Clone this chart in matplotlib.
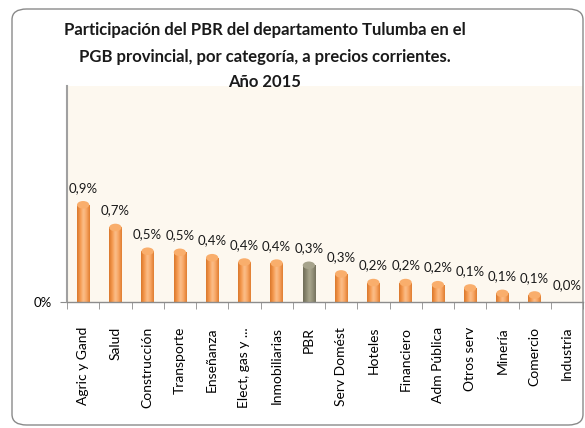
import matplotlib
matplotlib.use("Agg")
import matplotlib.pyplot as plt
import numpy as np
from matplotlib.patches import FancyBboxPatch, Ellipse
from matplotlib.colors import LinearSegmentedColormap
from matplotlib.ticker import FixedLocator

plt.rcParams['font.family'] = ['Lato', 'DejaVu Sans']

categories = ["Agric y Gand", "Salud", "Construcción", "Transporte", "Enseñanza",
              "Elect, gas y ...", "Inmobiliarias", "PBR", "Serv Domést", "Hoteles",
              "Financiero", "Adm Pública", "Otros serv", "Minería", "Comercio", "Industria"]
values = [0.90, 0.69, 0.47, 0.46, 0.41, 0.37, 0.36, 0.34, 0.26, 0.18,
          0.18, 0.16, 0.13, 0.08, 0.065, 0.0]
highlight = "PBR"

title_lines = ["Participación del PBR del departamento Tulumba en el",
               "PGB provincial, por categoría, a precios corrientes.",
               "Año 2015"]

W, H = 585, 428
fig = plt.figure(figsize=(W / 100, H / 100), dpi=100)
fig.patch.set_facecolor("white")

# rounded outer frame
frame = FancyBboxPatch((12 / W, 3 / H), (583 - 12) / W, (419 - 3) / H,
                       boxstyle="round,pad=0,rounding_size=0.025",
                       transform=fig.transFigure, facecolor="none",
                       edgecolor="#8a8a8a", linewidth=1.0, zorder=0)
fig.patches.append(frame)

ax = fig.add_axes([67 / W, 1 - 302 / H, (583 - 67) / W, 216 / H])
ax.set_facecolor("#FDF8EF")

orange_cmap = LinearSegmentedColormap.from_list(
    "o", ["#D9772B", "#F5994E", "#FBC08C", "#F7A461", "#E07D30"])
gray_cmap = LinearSegmentedColormap.from_list(
    "g", ["#6F6C58", "#8A876F", "#ABA88F", "#939079", "#75725D"])

bw = 0.38
x = np.arange(len(categories))
grad = np.linspace(0, 1, 64).reshape(1, -1)
bars = ax.bar(x, values, width=bw, color="none", edgecolor="none", zorder=2)
for xi, v, b, c in zip(x, values, bars, categories):
    cmap = gray_cmap if c == highlight else orange_cmap
    top_col = "#A6A38B" if c == highlight else "#F9AE6C"
    if v > 0:
        im = ax.imshow(grad, extent=(xi - bw / 2, xi + bw / 2, 0, v), aspect="auto",
                       cmap=cmap, zorder=2, interpolation="bicubic")
        im.set_clip_path(b)
        ax.add_patch(Ellipse((xi, v), bw, 0.07, facecolor=top_col,
                             edgecolor="none", zorder=3))
    lab = f"{v:.1f}".replace(".", ",") + "%"
    ax.annotate(lab, (xi, v), xytext=(0, 8), textcoords="offset points",
                ha="center", va="bottom", fontsize=9.5, color="#1a1a1a", zorder=4)

ax.set_xlim(-0.5, len(categories) - 0.5)
ax.set_ylim(0, 2.0)

for s in ["top", "right"]:
    ax.spines[s].set_visible(False)
ax.spines["left"].set_color("#a0a0a0")
ax.spines["left"].set_linewidth(1.5)
ax.spines["bottom"].set_color("#8c8c8c")
ax.spines["bottom"].set_linewidth(1.0)

ax.set_yticks([0])
ax.set_yticklabels(["0%"], fontsize=9.5)
ax.tick_params(axis="y", length=5, color="#8c8c8c", pad=6)

ax.set_xticks(x)
ax.set_xticklabels(categories, rotation=90, fontsize=10, va="top", ha="center")
ax.tick_params(axis="x", which="major", length=0, pad=18)
ax.xaxis.set_minor_locator(FixedLocator(np.arange(-0.5, len(categories), 1.0)))
ax.tick_params(axis="x", which="minor", length=5, color="#8c8c8c")

ys = [30, 57, 82]
for line, yy in zip(title_lines, ys):
    fig.text(265 / W, 1 - yy / H, line, ha="center", va="center",
             fontsize=12, fontweight="bold", color="#1a1a1a")

fig.savefig("out.png", dpi=100)
